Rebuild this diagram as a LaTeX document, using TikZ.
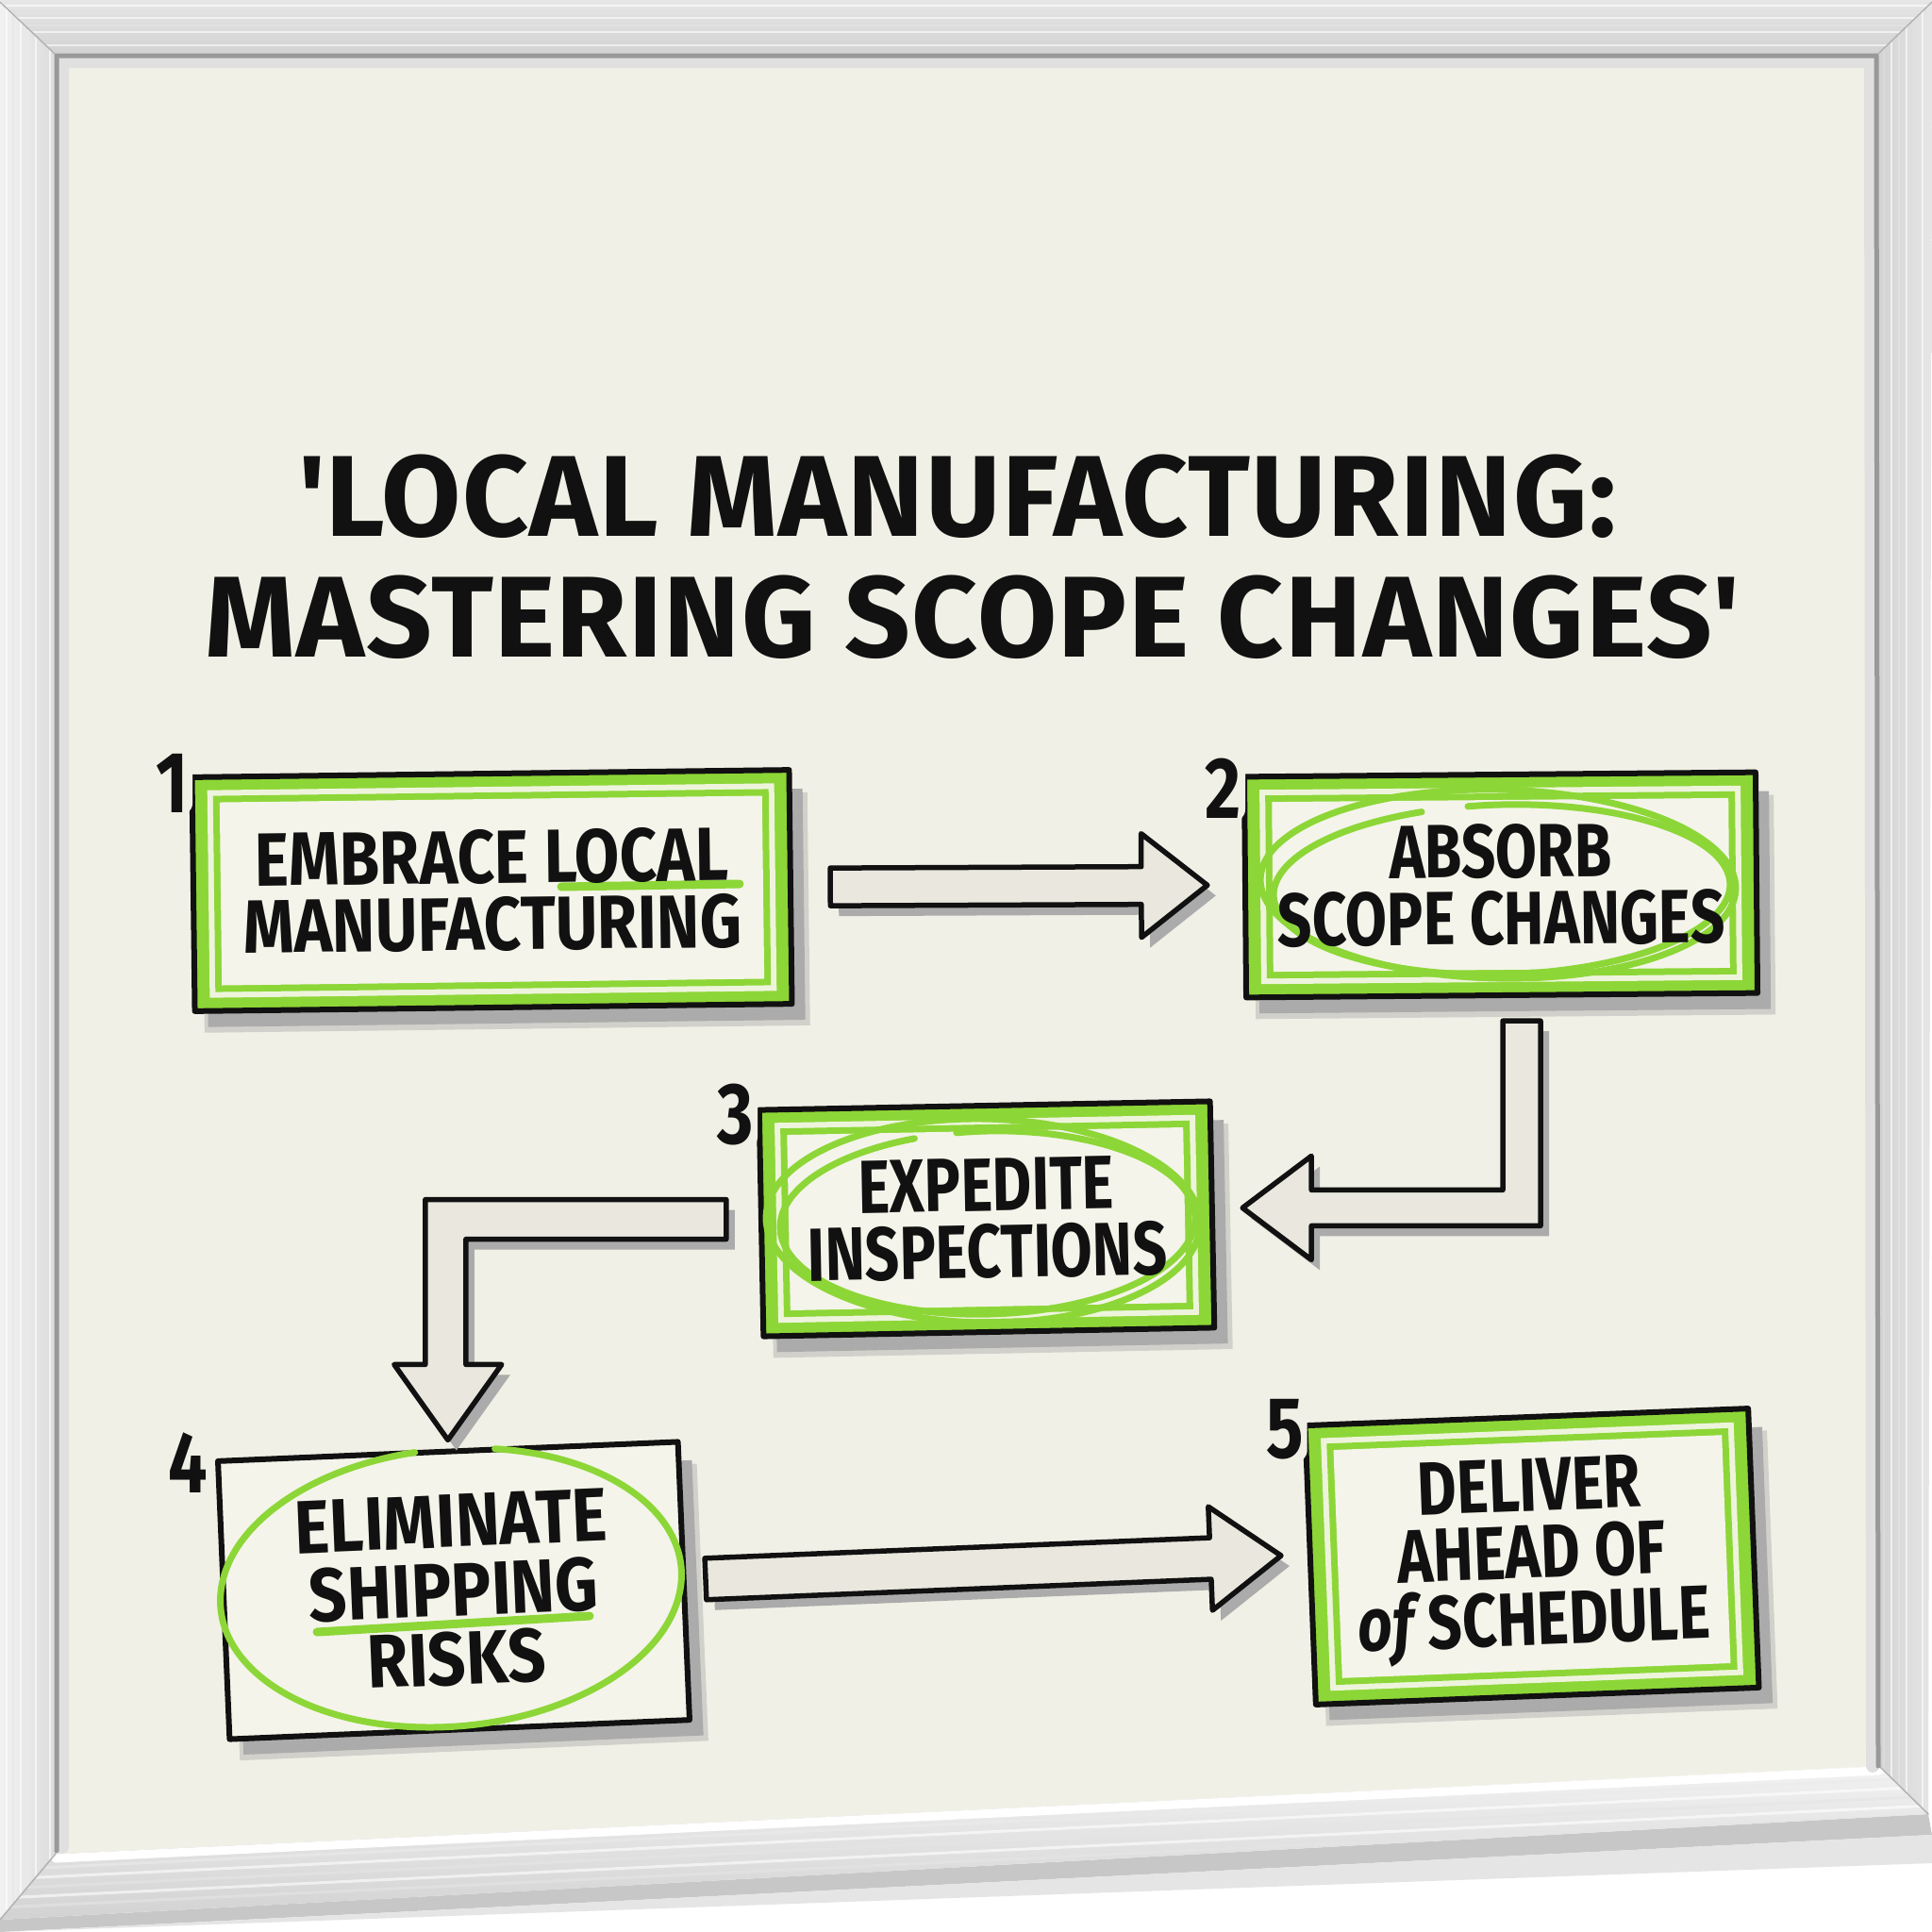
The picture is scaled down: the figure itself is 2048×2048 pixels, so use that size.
\documentclass[tikz,border=0pt]{standalone}
\usepackage{fontspec}
\setmainfont{Fira Sans}
\newfontfamily\handf{Fira Sans}[FakeStretch=0.8]
\newfontfamily\handw{Fira Sans}[FakeStretch=0.86]
\newfontfamily\handx{Fira Sans}[FakeStretch=0.885]
\newfontfamily\titlef{Fira Sans}[LetterSpace=1.2]
\usetikzlibrary{calc}
\definecolor{boardc}{HTML}{F1F0E6}
\definecolor{boxin}{HTML}{F4F4EA}
\definecolor{greenc}{HTML}{8DD637}
\definecolor{bandl}{HTML}{EEF4DC}
\definecolor{arrowf}{HTML}{E9E7DE}
\definecolor{shadc}{HTML}{ABABAB}
\definecolor{inkc}{HTML}{111111}
\definecolor{frA}{HTML}{E6E6E6}
\definecolor{frB}{HTML}{D2D2D2}
\definecolor{frC}{HTML}{F2F2F2}
\definecolor{frD}{HTML}{DCDCDC}

\newcommand{\greenboxdraw}[5]{%
\begin{scope}[shift={(#1,#2)},rotate=#5]
 \fill[shadc,opacity=0.45] ({-#3/2+10},{-#4/2+24}) rectangle ({#3/2+19},{#4/2+23});
 \fill[shadc] ({-#3/2+14},{-#4/2+20}) rectangle ({#3/2+14},{#4/2+17});
 \fill[greenc] ({-#3/2},{-#4/2}) rectangle ({#3/2},{#4/2});
 \fill[bandl] ({-#3/2+16},{-#4/2+14}) rectangle ({#3/2-16},{#4/2-14});
 \fill[greenc] ({-#3/2+22},{-#4/2+20}) rectangle ({#3/2-22},{#4/2-20});
 \fill[boxin] ({-#3/2+29},{-#4/2+27}) rectangle ({#3/2-29},{#4/2-27});
 \draw[outl] ({-#3/2},{-#4/2}) rectangle ({#3/2},{#4/2});
\end{scope}}

\newcommand{\plainboxdraw}[5]{%
\begin{scope}[shift={(#1,#2)},rotate=#5]
 \fill[shadc,opacity=0.45] ({-#3/2+10},{-#4/2+24}) rectangle ({#3/2+19},{#4/2+23});
 \fill[shadc] ({-#3/2+14},{-#4/2+20}) rectangle ({#3/2+14},{#4/2+17});
 \fill[boxin] ({-#3/2},{-#4/2}) rectangle ({#3/2},{#4/2});
 \draw[outl] ({-#3/2},{-#4/2}) rectangle ({#3/2},{#4/2});
\end{scope}}

\newcommand{\blockarrow}[5]{%
 \coordinate (hb) at ($(#2)!#4pt!(#1)$);
 \fill[arrowsh] ($(#1)!#3pt!90:(#2)$) -- ($(hb)!#3pt!90:(#2)$) -- ($(hb)!#5pt!90:(#2)$) -- (#2) -- ($(hb)!#5pt!-90:(#2)$) -- ($(hb)!#3pt!-90:(#2)$) -- ($(#1)!#3pt!-90:(#2)$) -- cycle;
 \draw[arrowst] ($(#1)!#3pt!90:(#2)$) -- ($(hb)!#3pt!90:(#2)$) -- ($(hb)!#5pt!90:(#2)$) -- (#2) -- ($(hb)!#5pt!-90:(#2)$) -- ($(hb)!#3pt!-90:(#2)$) -- ($(#1)!#3pt!-90:(#2)$) -- cycle;
}

\begin{document}
\begin{tikzpicture}[x=1pt,y=-1pt,line join=round,line cap=round,
 outl/.style={draw=inkc,line width=6pt},
 gline/.style={draw=greenc,line width=7pt},
 boxtext/.style={inner sep=0pt,align=center,text=inkc,font=\handf\bfseries\fontsize{80}{71}\selectfont},
 numst/.style={text=inkc,font=\handf\bfseries\fontsize{92}{92}\selectfont,fill=boardc,inner sep=4pt,rounded corners=14pt},
 titlest/.style={text=inkc,font=\titlef\bfseries\fontsize{122}{128}\selectfont,inner sep=0pt},
 arrowst/.style={draw=inkc,line width=5.5pt,fill=arrowf},
 arrowsh/.style={fill=shadc,transform canvas={shift={(9,11)}}}]
\useasboundingbox (0,0) rectangle (2048,2048);
% ---------- background and frame ----------
\fill[white] (0,0) rectangle (2048,2048);
\fill[black!22] (0,2035) -- (2044,1923) -- (2048,1945) -- (0,2048) -- cycle;
\fill[black!10] (0,2048) -- (2048,1945) -- (2048,1975) -- cycle;
\shade[top color=frA,bottom color=frB] (0,0) -- (2048,0) -- (1990,58) -- (59,58) -- cycle;
\shade[left color=frC,right color=frD] (0,2) -- (59,58) -- (59,1965) -- (0,2035) -- cycle;
\shade[left color=frB,right color=frA] (2048,2) -- (2044,1923) -- (1992,1872) -- (1990,58) -- cycle;
\shade[top color=frC,bottom color=frB] (59,1965) -- (1992,1872) -- (2044,1923) -- (0,2035) -- cycle;
\begin{scope}
 \clip (0,0) -- (2048,0) -- (1990,58) -- (59,58) -- cycle;
 \foreach \yy/\cc in {6/white,12/black!12,19/white,27/black!10,34/white,41/black!14,48/white}
   \draw[\cc,line width=2pt,opacity=0.6] (0,\yy) -- (2048,\yy);
\end{scope}
\begin{scope}
 \clip (0,2) -- (59,58) -- (59,1965) -- (0,2035) -- cycle;
 \foreach \xx/\cc in {7/white,14/black!10,22/white,30/black!8,38/white,46/black!12,53/white}
   \draw[\cc,line width=2pt,opacity=0.6] (\xx,0) -- (\xx,2048);
\end{scope}
\begin{scope}
 \clip (2048,2) -- (2044,1923) -- (1992,1872) -- (1990,58) -- cycle;
 \foreach \xx/\cc in {1997/black!12,2005/white,2013/black!10,2021/white,2030/black!12,2038/white}
   \draw[\cc,line width=2pt,opacity=0.6] (\xx,0) -- (\xx,2048);
\end{scope}
\begin{scope}
 \clip (59,1965) -- (1992,1872) -- (2044,1923) -- (0,2035) -- cycle;
 \foreach \dd/\cc in {14/black!8,24/white,34/black!10,44/white,54/black!10}
   \draw[\cc,line width=3pt,opacity=0.6] (0,1968+\dd) -- (2048,1870+\dd);
\end{scope}
\draw[white,line width=9pt] (59,1970) -- (1992,1877);
\draw[black!30,line width=1.5pt] (0,2) -- (59,58) (2048,2) -- (1990,58) (1992,1872) -- (2044,1923) (59,1965) -- (0,2035);
% board
\fill[boardc] (59,58) -- (1990,58) -- (1992,1872) -- (59,1965) -- cycle;
\draw[black!12,line width=14pt] (66,1958) -- (66,65) -- (1983,65) -- (1985,1872);
\draw[black!40,line width=5pt] (60,1962) -- (60,59) -- (1989,59) -- (1991,1872);
% ---------- title ----------
\node[titlest,anchor=base] (t1) at (1015,568) {\textquotesingle LOCAL MANUFACTURING:};
\node[titlest,anchor=base] (t2) at (1031,696) {MASTERING SCOPE CHANGES\textquotesingle};
% ---------- boxes ----------
\greenboxdraw{521.5}{944}{633}{248}{0.7}
\greenboxdraw{1591}{938}{542}{234}{0.5}
\greenboxdraw{1046}{1292}{478}{240}{1.1}
\plainboxdraw{481}{1686}{488}{295}{2.4}
\greenboxdraw{1624}{1650}{470}{296}{2.2}
% highlights
\draw[greenc,line width=9pt] (595,940) -- (784,937);
\draw[greenc,line width=9pt] (336,1730) -- (625,1713);
\begin{scope}[shift={(1588,937)},rotate=-1.2]
 \draw[gline] (0,0) ellipse [x radius=252,y radius=100];
\end{scope}
\begin{scope}[shift={(1592,943)},rotate=1.5]
 \draw[gline] (262:242 and 90) arc [start angle=262,end angle=610,x radius=242,y radius=90];
\end{scope}
\begin{scope}[shift={(1042,1294)},rotate=-1]
 \draw[gline] (0,0) ellipse [x radius=230,y radius=108];
\end{scope}
\begin{scope}[shift={(1047,1296)},rotate=1.5]
 \draw[gline] (262:220 and 97) arc [start angle=262,end angle=610,x radius=220,y radius=97];
\end{scope}
\begin{scope}[shift={(478,1683)},rotate=5]
 \draw[gline] (284:245 and 147) arc [start angle=284,end angle=624,x radius=245,y radius=147];
\end{scope}
% text nodes
\node[boxtext,font=\handw\bfseries\fontsize{80}{71}\selectfont,rotate=0.7,minimum width=633pt,minimum height=248pt] (b1) at (521.5,944) {EMBRACE LOCAL\\MANUFACTURING};
\node[boxtext,rotate=0.5,minimum width=542pt,minimum height=234pt] (b2) at (1591,938) {ABSORB\\SCOPE CHANGES};
\node[boxtext,rotate=1.1,minimum width=478pt,minimum height=240pt] (b3) at (1046,1292) {EXPEDITE\\INSPECTIONS};
\node[boxtext,font=\handx\bfseries\fontsize{80}{73}\selectfont,rotate=2.4,minimum width=488pt,minimum height=295pt] (b4) at (481,1686) {ELIMINATE\\SHIPPING\\RISKS};
\node[boxtext,rotate=2.2,minimum width=470pt,minimum height=296pt] (b5) at (1624,1654) {DELIVER\\AHEAD OF\\{\itshape of} SCHEDULE};
% numbers
\node[numst] (n1) at (183,830) {1};
\node[numst] (n2) at (1297,836) {2};
\node[numst] (n3) at (780,1182) {3};
\node[numst] (n4) at (199,1551) {4};
\node[numst] (n5) at (1362,1515) {5};
% ---------- arrows ----------
\coordinate (a1s) at ($(b1.east)+(42,0)$);
\coordinate (a1e) at ($(b2.west)+(-40,-2)$);
\blockarrow{a1s}{a1e}{20}{70}{55}
\coordinate (a2s) at ($(b2.south)+(21,27)$);
\coordinate (a2e) at ($(b3.east)+(32,-7)$);
\coordinate (a2c) at (a2s |- a2e);
\fill[arrowsh] ($(a2s)+(-20,0)$) -- ($(a2s)+(20,0)$) -- ($(a2c)+(20,19)$) -- ($(a2e)+(73,19)$) -- ($(a2e)+(73,55)$) -- (a2e) -- ($(a2e)+(73,-55)$) -- ($(a2e)+(73,-19)$) -- ($(a2c)+(-20,-19)$) -- cycle;
\draw[arrowst] ($(a2s)+(-20,0)$) -- ($(a2s)+(20,0)$) -- ($(a2c)+(20,19)$) -- ($(a2e)+(73,19)$) -- ($(a2e)+(73,55)$) -- (a2e) -- ($(a2e)+(73,-55)$) -- ($(a2e)+(73,-19)$) -- ($(a2c)+(-20,-19)$) -- cycle;
\coordinate (a3s) at ($(b3.west)+(-37,-4)$);
\coordinate (a3e) at ($(b4.north)+(0,-12)$);
\coordinate (a3c) at (a3e |- a3s);
\fill[arrowsh] ($(a3s)+(0,-21)$) -- ($(a3c)+(-24,-21)$) -- ($(a3e)+(-24,-80)$) -- ($(a3e)+(-57,-80)$) -- (a3e) -- ($(a3e)+(57,-80)$) -- ($(a3e)+(19,-80)$) -- ($(a3c)+(19,21)$) -- ($(a3s)+(0,21)$) -- cycle;
\draw[arrowst] ($(a3s)+(0,-21)$) -- ($(a3c)+(-24,-21)$) -- ($(a3e)+(-24,-80)$) -- ($(a3e)+(-57,-80)$) -- (a3e) -- ($(a3e)+(57,-80)$) -- ($(a3e)+(19,-80)$) -- ($(a3c)+(19,21)$) -- ($(a3s)+(0,21)$) -- cycle;
\coordinate (a4s) at ($(b4.east)+(23,-2)$);
\coordinate (a4e) at ($(b5.west)+(-31,-14)$);
\blockarrow{a4s}{a4e}{22}{75}{55}
\end{tikzpicture}
\end{document}
